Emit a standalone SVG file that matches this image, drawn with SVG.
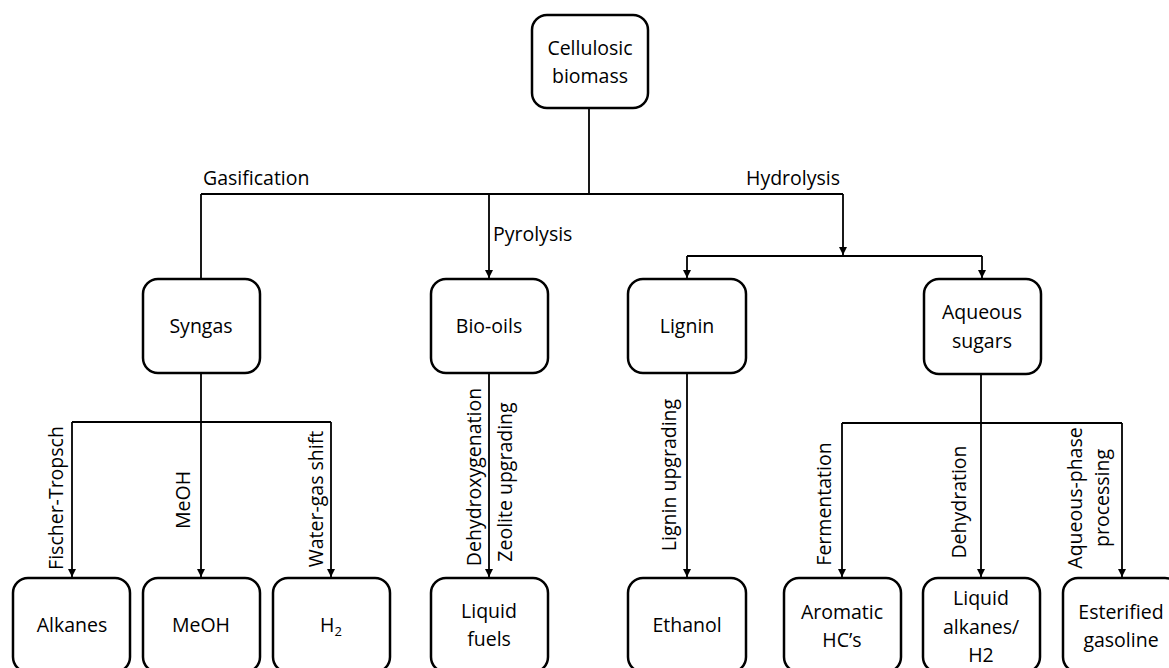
<svg xmlns="http://www.w3.org/2000/svg" width="1169" height="668" viewBox="0 0 1169 668">
<style>
.box{fill:#fff;stroke:#000;stroke-width:2.5}
.t{font-family:"Open Sans","Liberation Sans",sans-serif;font-size:19.5px;fill:#000}
.c{text-anchor:middle}
.ln{fill:none;stroke:#000;stroke-width:1.8}
.ar{marker-end:url(#ah)}
</style>
<defs>
<marker id="ah" markerUnits="userSpaceOnUse" markerWidth="9" markerHeight="8" refX="8" refY="4" orient="auto">
<path d="M0,0 L8,4 L0,8 z" fill="#000"/>
</marker>
</defs>
<rect width="1169" height="668" fill="#fff"/>
<g id="connectors">
<path class="ln" d="M589,108 V194 M201,194 H843 M201,194 V279"/>
<path class="ln ar" d="M489,194 V278"/>
<path class="ln ar" d="M843,194 V255"/>
<path class="ln" d="M687,256 H982"/>
<path class="ln ar" d="M687,256 V278"/>
<path class="ln ar" d="M982,256 V278"/>
<path class="ln ar" d="M201,373 V577"/>
<path class="ln" d="M72,422 H331"/>
<path class="ln ar" d="M72,422 V577"/>
<path class="ln ar" d="M331,422 V577"/>
<path class="ln ar" d="M489,373 V577"/>
<path class="ln ar" d="M687,373 V577"/>
<path class="ln ar" d="M981,374 V577"/>
<path class="ln" d="M842,423 H1122"/>
<path class="ln ar" d="M842,423 V577"/>
<path class="ln ar" d="M1122,423 V577"/>
</g>
<g id="connector-labels">
<text class="t" x="203" y="185">Gasification</text>
<text class="t" x="493" y="241">Pyrolysis</text>
<text class="t" x="746" y="185">Hydrolysis</text>
<text class="t c" transform="translate(63,498) rotate(-90)">Fischer-Tropsch</text>
<text class="t c" transform="translate(190,500) rotate(-90)">MeOH</text>
<text class="t c" transform="translate(323,499) rotate(-90)">Water-gas shift</text>
<text class="t c" transform="translate(481,477) rotate(-90)">Dehydroxygenation</text>
<text class="t c" transform="translate(512,482) rotate(-90)">Zeolite upgrading</text>
<text class="t c" transform="translate(676,475) rotate(-90)">Lignin upgrading</text>
<text class="t c" transform="translate(831,504) rotate(-90)">Fermentation</text>
<text class="t c" transform="translate(966,502) rotate(-90)">Dehydration</text>
<text class="t c" transform="translate(1082,498) rotate(-90)">Aqueous-phase</text>
<text class="t c" transform="translate(1109,498) rotate(-90)">processing</text>
</g>
<g id="cellulosic-biomass">
<rect class="box" x="532" y="15" width="116" height="93" rx="15"/>
<text class="t c" x="590" y="55">Cellulosic</text>
<text class="t c" x="590" y="83">biomass</text>
</g>
<g id="syngas">
<rect class="box" x="143" y="279" width="117" height="94" rx="15"/>
<text class="t c" x="201" y="333">Syngas</text>
</g>
<g id="bio-oils">
<rect class="box" x="431" y="279" width="117" height="94" rx="15"/>
<text class="t c" x="489" y="333">Bio-oils</text>
</g>
<g id="lignin">
<rect class="box" x="628" y="279" width="118" height="94" rx="15"/>
<text class="t c" x="687" y="333">Lignin</text>
</g>
<g id="aqueous-sugars">
<rect class="box" x="924" y="279" width="117" height="95" rx="15"/>
<text class="t c" x="982" y="319">Aqueous</text>
<text class="t c" x="982" y="348">sugars</text>
</g>
<g id="alkanes">
<rect class="box" x="13" y="578" width="117" height="94" rx="15"/>
<text class="t c" x="72" y="632">Alkanes</text>
</g>
<g id="meoh">
<rect class="box" x="143" y="578" width="117" height="94" rx="15"/>
<text class="t c" x="201" y="632">MeOH</text>
</g>
<g id="h2">
<rect class="box" x="273" y="578" width="117" height="94" rx="15"/>
<text class="t c" x="331" y="632">H<tspan font-size="13" dy="4">2</tspan></text>
</g>
<g id="liquid-fuels">
<rect class="box" x="431" y="578" width="117" height="94" rx="15"/>
<text class="t c" x="489" y="618">Liquid</text>
<text class="t c" x="489" y="646">fuels</text>
</g>
<g id="ethanol">
<rect class="box" x="628" y="578" width="118" height="94" rx="15"/>
<text class="t c" x="687" y="632">Ethanol</text>
</g>
<g id="aromatic-hcs">
<rect class="box" x="784" y="578" width="117" height="94" rx="15"/>
<text class="t c" x="842" y="619">Aromatic</text>
<text class="t c" x="842" y="647">HC’s</text>
</g>
<g id="liquid-alkanes-h2">
<rect class="box" x="923" y="578" width="117" height="94" rx="15"/>
<text class="t c" x="981" y="605">Liquid</text>
<text class="t c" x="981" y="634">alkanes/</text>
<text class="t c" x="981" y="662">H2</text>
</g>
<g id="esterified-gasoline">
<rect class="box" x="1063" y="578" width="117" height="94" rx="15"/>
<text class="t c" x="1121" y="619">Esterified</text>
<text class="t c" x="1121" y="647">gasoline</text>
</g>
</svg>
